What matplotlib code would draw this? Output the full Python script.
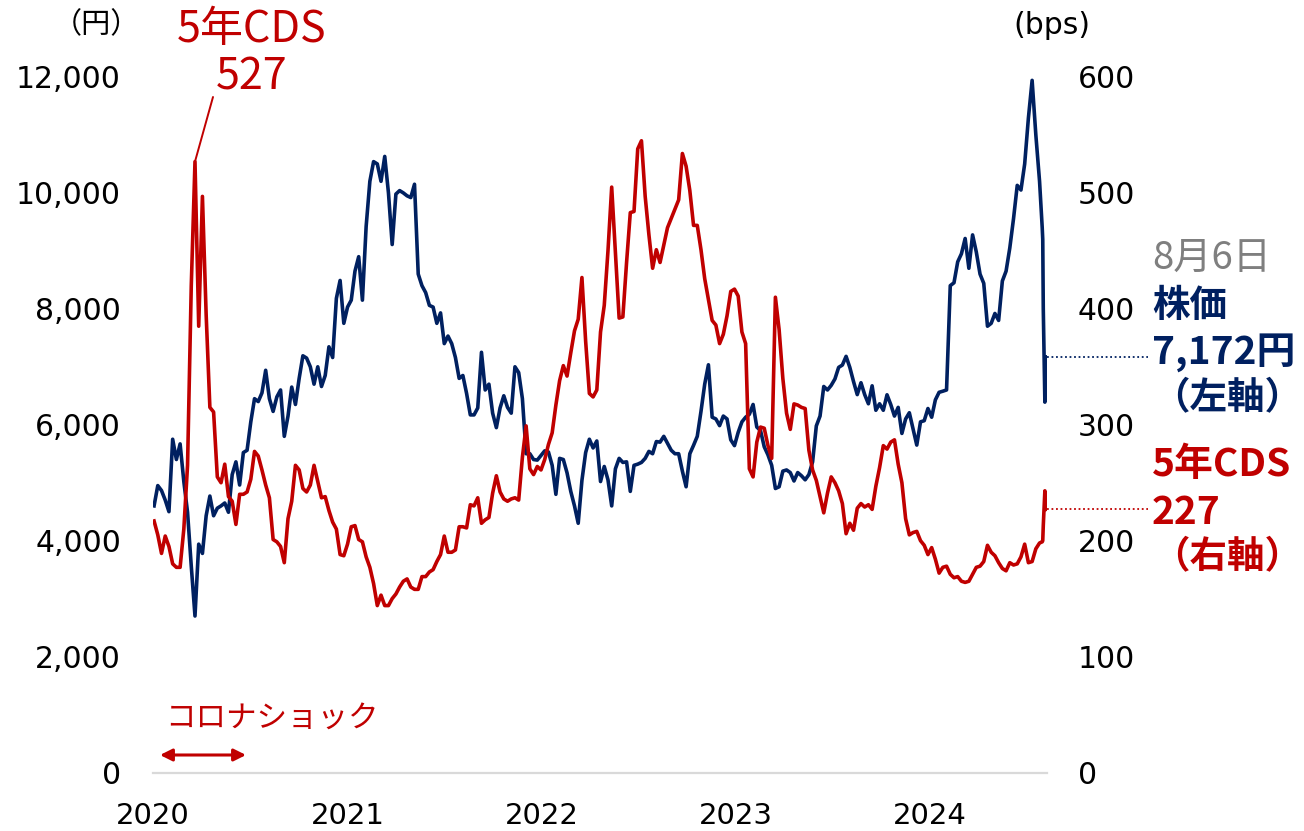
import matplotlib
matplotlib.use("Agg")
import matplotlib.pyplot as plt
import matplotlib.transforms as mtransforms
import pandas as pd
from matplotlib.ticker import FuncFormatter, MultipleLocator

# ---------------- data ----------------
weekly_start = "2020-01-03"
weekly_end = "2024-07-26"
final_dates = ["2024-07-31", "2024-08-01", "2024-08-02", "2024-08-05", "2024-08-06"]

stock_weekly = [
    4600, 4950, 4865, 4700, 4500, 5750, 5400, 5670, 5020, 4490,
    3560, 2700, 3940, 3780, 4430, 4770, 4430, 4560, 4600, 4650,
    4490, 5140, 5360, 4960, 5520, 5560, 6050, 6450, 6400, 6550,
    6940, 6450, 6230, 6480, 6600, 5800, 6150, 6650, 6350, 6800,
    7190, 7150, 7000, 6700, 7000, 6660, 6850, 7345, 7160, 8180,
    8490, 7750, 8030, 8150, 8650, 8900, 8150, 9420, 10200, 10540,
    10500, 10200, 10630, 10000, 9110, 9980, 10040, 10000, 9950, 9920,
    10150, 8600, 8400, 8280, 8060, 8030, 7750, 7930, 7400, 7530,
    7400, 7160, 6800, 6850, 6540, 6170, 6170, 6290, 7250, 6600,
    6700, 6200, 5950, 6290, 6500, 6300, 6200, 7000, 6900, 6450,
    5500, 5500, 5400, 5390, 5470, 5550, 5530, 5300, 4800, 5420,
    5400, 5170, 4850, 4600, 4300, 5040, 5520, 5750, 5600, 5720,
    5020, 5280, 5050, 4600, 5240, 5420, 5350, 5360, 4850, 5300,
    5320, 5350, 5420, 5540, 5500, 5710, 5700, 5800, 5680, 5560,
    5500, 5500, 5200, 4930, 5500, 5645, 5800, 6230, 6700, 7035,
    6130, 6100, 5985, 6150, 6100, 5740, 5640, 5870, 6050, 6130,
    6180, 6350, 5960, 5900, 5620, 5480, 5300, 4900, 4930, 5200,
    5220, 5175, 5030, 5175, 5120, 5050, 5140, 5360, 5980, 6150,
    6660, 6600, 6680, 6790, 6990, 7030, 7180, 6990, 6745, 6520,
    6725, 6520, 6362, 6672, 6250, 6362, 6250, 6517, 6350, 6150,
    6300, 5850, 6100, 6207, 5928, 5649, 6050, 6070, 6280, 6130,
    6430, 6560, 6579, 6600, 8400, 8450, 8811, 8950, 9214, 8700,
    9276, 8980, 8600, 8440, 7700, 7750, 7920, 7800, 8480, 8650,
    9050, 9555, 10130, 10050, 10500, 11291, 11942, 11000, 10200,
]
stock_final = [9400, 9200, 8000, 6390, 7172]

cds_weekly = [
    217, 205, 189, 204, 195, 180, 177, 177, 210, 265,
    420, 527, 385, 497, 395, 315, 311, 255, 250, 266,
    238, 234, 214, 240, 240, 242, 253, 277, 273, 261,
    248, 237, 201, 199, 195, 181, 219, 234, 265, 261,
    245, 242, 248, 265, 251, 237, 238, 226, 216, 210,
    188, 187, 197, 212, 213, 201, 199, 186, 177, 163,
    144, 153, 144, 144, 150, 154, 160, 165, 167, 160,
    158, 158, 169, 169, 173, 175, 182, 188, 204, 190,
    190, 192, 212, 212, 211, 231, 230, 237, 215, 218,
    220, 241, 256, 242, 236, 234, 236, 237, 235, 272,
    299, 262, 257, 264, 261, 270, 283, 293, 317, 338,
    351, 342, 362, 381, 391, 427, 372, 327, 324, 330,
    380, 403, 450, 505, 449, 392, 393, 440, 483, 484,
    538, 545, 497, 464, 435, 451, 440, 455, 470, 478,
    486, 494, 534, 523, 502, 472, 472, 451, 426, 408,
    390, 386, 370, 378, 394, 415, 417, 411, 380, 370,
    262, 255, 285, 298, 297, 282, 271, 410, 382, 340,
    310, 296, 318, 317, 315, 314, 278, 261, 252, 238,
    224, 241, 255, 250, 243, 232, 206, 215, 209, 228,
    232, 229, 231, 227, 247, 263, 282, 279, 285, 287,
    266, 250, 219, 205, 207, 208, 200, 196, 188, 194,
    184, 172, 177, 178, 171, 168, 169, 165, 164, 165,
    171, 177, 178, 182, 196, 190, 187, 181, 176, 174,
    181, 179, 180, 186, 197, 181, 182, 193, 198,
]
cds_final = [199, 200, 213, 243, 227]

year_ticks = ["2020-01-01", "2021-01-01", "2022-01-01", "2023-01-01", "2024-01-01"]
year_labels = ["2020", "2021", "2022", "2023", "2024"]
covid_window = ("2020-01-01", "2020-12-31")

dates = pd.date_range(weekly_start, weekly_end, freq="7D").append(pd.DatetimeIndex(final_dates))
stock = stock_weekly + stock_final
cds = cds_weekly + cds_final
assert len(dates) == len(stock) == len(cds)

cds_s = pd.Series(cds, index=dates)
covid = cds_s.loc[covid_window[0]:covid_window[1]]
covid_peak_date = covid.idxmax()
covid_peak = int(covid.max())
last_stock = stock[-1]
last_cds = cds[-1]

# ---------------- style ----------------
NAVY = "#002060"
RED = "#C00000"
GRAY = "#7F7F7F"
CJK = ["Noto Sans CJK JP", "DejaVu Sans"]

W, H = 1304, 831
fig = plt.figure(figsize=(W / 100, H / 100), dpi=100)
left_px, right_px, top_px, bottom_px = 153, 1047, 77, 772.5
ax = fig.add_axes([left_px / W, 1 - bottom_px / H, (right_px - left_px) / W, (bottom_px - top_px) / H])
ax2 = ax.twinx()

ax.plot(dates, stock, color=NAVY, lw=2.6, solid_joinstyle="round", zorder=3)
ax2.plot(dates, cds, color=RED, lw=2.6, solid_joinstyle="round", zorder=3)

ax.set_xlim(pd.Timestamp("2020-01-01"), pd.Timestamp("2024-08-09"))
ax.set_ylim(0, 12000)
ax2.set_ylim(0, 600)

ax.yaxis.set_major_locator(MultipleLocator(2000))
ax.yaxis.set_major_formatter(FuncFormatter(lambda v, p: f"{int(v):,}"))
ax2.yaxis.set_major_locator(MultipleLocator(100))
ax2.yaxis.set_major_formatter(FuncFormatter(lambda v, p: f"{int(v)}"))

ax.set_xticks(pd.to_datetime(year_ticks))
ax.set_xticklabels(year_labels)

ax.tick_params(axis="y", length=0, pad=23, labelsize=21.5, colors="black")
ax2.tick_params(axis="y", length=0, pad=22, labelsize=21.5, colors="black")
ax.tick_params(axis="x", length=0, pad=21, labelsize=21, colors="black")

for s in ["top", "left", "right"]:
    ax.spines[s].set_visible(False)
for s in ax2.spines.values():
    s.set_visible(False)
ax.spines["bottom"].set_color("#D9D9D9")
ax.spines["bottom"].set_linewidth(1.6)

# unit labels
fig.text(96 / W, 1 - 25 / H, "（円）", ha="center", va="center", fontsize=21, family=CJK, color="black")
fig.text(1052 / W, 1 - 25 / H, "(bps)", ha="center", va="center", fontsize=21.5, color="black")

# CDS peak annotation (corona shock peak)
fig.text(252 / W, 1 - 30 / H, "5年CDS", ha="center", va="center", fontsize=31, family=CJK, color=RED)
fig.text(252 / W, 1 - 77 / H, f"{covid_peak}", ha="center", va="center", fontsize=31, family=CJK, color=RED)
ax2.annotate("", xy=(covid_peak_date, covid_peak), xycoords="data",
             xytext=(213, H - 97), textcoords="figure pixels",
             arrowprops=dict(arrowstyle="-", color=RED, lw=1.4, shrinkA=0, shrinkB=0))

# Corona shock
fig.text(165 / W, 1 - 718 / H, "コロナショック", ha="left", va="center", fontsize=22, family=CJK, color=RED)
ax.annotate("", xy=(246, H - 755), xycoords="figure pixels", xytext=(160, H - 755),
            textcoords="figure pixels",
            arrowprops=dict(arrowstyle="<|-|>", color=RED, lw=2.2, mutation_scale=18, shrinkA=0, shrinkB=0))

# right side labels
xr = 1152 / W
fig.text(xr, 1 - 258 / H, "8月6日", ha="left", va="center", fontsize=27.5, family=CJK, color=GRAY)
fig.text(xr, 1 - 305 / H, "株価", ha="left", va="center", fontsize=27, family=CJK, color=NAVY, weight="bold")
fig.text(xr, 1 - 352 / H, f"{last_stock:,}円", ha="left", va="center", fontsize=28, family=CJK, color=NAVY, weight="bold")
fig.text(xr, 1 - 398 / H, "（左軸）", ha="left", va="center", fontsize=27, family=CJK, color=NAVY, weight="bold")
fig.text(xr, 1 - 465 / H, "5年CDS", ha="left", va="center", fontsize=28, family=CJK, color=RED, weight="bold")
fig.text(xr, 1 - 512 / H, f"{last_cds}", ha="left", va="center", fontsize=28, family=CJK, color=RED, weight="bold")
fig.text(xr, 1 - 557 / H, "（右軸）", ha="left", va="center", fontsize=27, family=CJK, color=RED, weight="bold")

# dotted leaders
tr1 = mtransforms.blended_transform_factory(ax.transAxes, ax.transData)
ax.plot([1.0, 1.113], [last_stock, last_stock], transform=tr1, clip_on=False,
        color=NAVY, lw=1.3, ls=(0, (1, 1.5)))
tr2 = mtransforms.blended_transform_factory(ax2.transAxes, ax2.transData)
ax2.plot([1.0, 1.113], [last_cds, last_cds], transform=tr2, clip_on=False,
         color=RED, lw=1.3, ls=(0, (1, 1.5)))

fig.savefig("out.png", dpi=100)
